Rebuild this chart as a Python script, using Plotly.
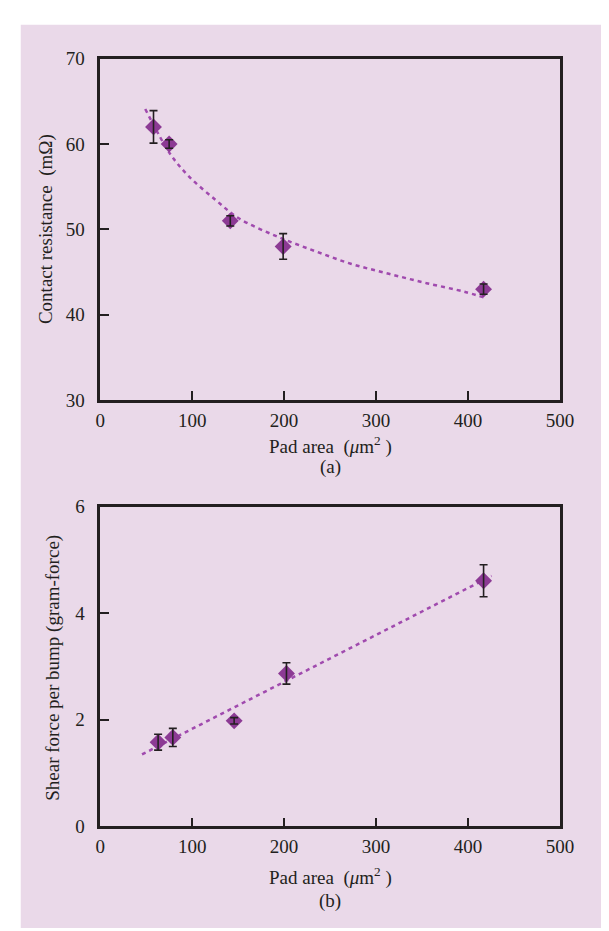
import plotly.graph_objects as go

# ---- data ----
area_a = [58, 75, 141.5, 199, 417]
res_a = [62.0, 60.0, 51.0, 48.0, 43.0]
res_err = [1.9, 0.5, 0.6, 1.5, 0.6]
fit_a_x = [49, 77, 97.5, 126, 150.7, 191.6, 232.6, 273.4, 314, 355, 396, 418]
fit_a_y = [64.1, 58.7, 56.1, 53.4, 51.3, 49.2, 47.5, 45.95, 44.8, 43.7, 42.7, 42.0]

area_b = [63, 79, 145.7, 202.6, 417]
shear_b = [1.58, 1.67, 1.98, 2.87, 4.61]
shear_err = [0.15, 0.17, 0.06, 0.2, 0.3]
fit_b_x = [45.5, 425.7]
fit_b_y = [1.35, 4.70]

x_ticks = [0, 100, 200, 300, 400, 500]
ya_ticks = [30, 40, 50, 60, 70]
yb_ticks = [0, 2, 4, 6]

W, H = 609, 931
BG = "rgb(234,217,233)"
INK = "#231f20"
MARK = "#8c3a94"
LINE = "#a04aae"
FONT = "Liberation Serif, Times New Roman, serif"

def px_x(p):
    return p / W

def px_y(p):
    return 1 - p / H

fig = go.Figure()

# fit curves
fig.add_trace(go.Scatter(x=fit_a_x, y=fit_a_y, mode="lines", line=dict(color=LINE, width=2.5, dash="4px,4px", shape="spline"),
                         xaxis="x", yaxis="y", showlegend=False, hoverinfo="skip"))
fig.add_trace(go.Scatter(x=fit_b_x, y=fit_b_y, mode="lines", line=dict(color=LINE, width=2.5, dash="4px,4px"),
                         xaxis="x2", yaxis="y2", showlegend=False, hoverinfo="skip"))

# data points
fig.add_trace(go.Scatter(x=area_a, y=res_a, mode="markers",
                         marker=dict(symbol="diamond", size=13, color=MARK),
                         xaxis="x", yaxis="y", showlegend=False))
fig.add_trace(go.Scatter(x=area_b, y=shear_b, mode="markers",
                         marker=dict(symbol="diamond", size=13, color=MARK),
                         xaxis="x2", yaxis="y2", showlegend=False))
# error bars drawn on top of the markers
fig.add_trace(go.Scatter(x=area_a, y=res_a, mode="markers", marker=dict(size=1, opacity=0),
                         error_y=dict(type="data", array=res_err, color=INK, thickness=1.6, width=4),
                         xaxis="x", yaxis="y", showlegend=False, hoverinfo="skip"))
fig.add_trace(go.Scatter(x=area_b, y=shear_b, mode="markers", marker=dict(size=1, opacity=0),
                         error_y=dict(type="data", array=shear_err, color=INK, thickness=1.6, width=4),
                         xaxis="x2", yaxis="y2", showlegend=False, hoverinfo="skip"))

xdom = [px_x(90), px_x(564.5)]
axis_common = dict(showline=True, linecolor=INK, linewidth=2.5, mirror=True, ticks="inside",
                   ticklen=9, tickwidth=2, tickcolor=INK, showgrid=False, zeroline=False,
                   tickfont=dict(family=FONT, size=19, color=INK))

fig.update_layout(
    width=W, height=H,
    margin=dict(l=0, r=0, t=0, b=0),
    paper_bgcolor="white",
    plot_bgcolor=BG,
    xaxis=dict(domain=xdom, range=[0, 500], tickvals=x_ticks, anchor="y", ticklabelstandoff=1, **axis_common),
    yaxis=dict(domain=[px_y(391), px_y(41.5)], range=[30, 70], tickvals=ya_ticks, anchor="x", ticklabelstandoff=9, **axis_common),
    xaxis2=dict(domain=xdom, range=[0, 500], tickvals=x_ticks, anchor="y2", ticklabelstandoff=1, **axis_common),
    yaxis2=dict(domain=[px_y(827), px_y(500)], range=[0, 6], tickvals=yb_ticks, anchor="x2", ticklabelstandoff=9, **axis_common),
    shapes=[dict(type="rect", xref="paper", yref="paper", x0=px_x(8), x1=1, y0=0, y1=px_y(7),
                 fillcolor=BG, line=dict(width=0), layer="below")],
)

tfont = dict(family=FONT, size=19, color=INK)
cx = px_x((90 + 564.5) / 2)
ann = [
    dict(text="Contact resistance  (mΩ)", x=px_x(34), y=px_y(216), textangle=-90),
    dict(text="Pad area  (<i>μ</i>m<sup>2</sup> )", x=cx, y=px_y(437)),
    dict(text="(a)", x=cx, y=px_y(459)),
    dict(text="Shear force per bump (gram-force)", x=px_x(41), y=px_y(665), textangle=-90),
    dict(text="Pad area  (<i>μ</i>m<sup>2</sup> )", x=cx, y=px_y(878)),
    dict(text="(b)", x=cx, y=px_y(903)),
]
for a in ann:
    fig.add_annotation(xref="paper", yref="paper", showarrow=False, font=tfont,
                       xanchor="center", yanchor="middle", **a)

fig.write_html("out.html")
